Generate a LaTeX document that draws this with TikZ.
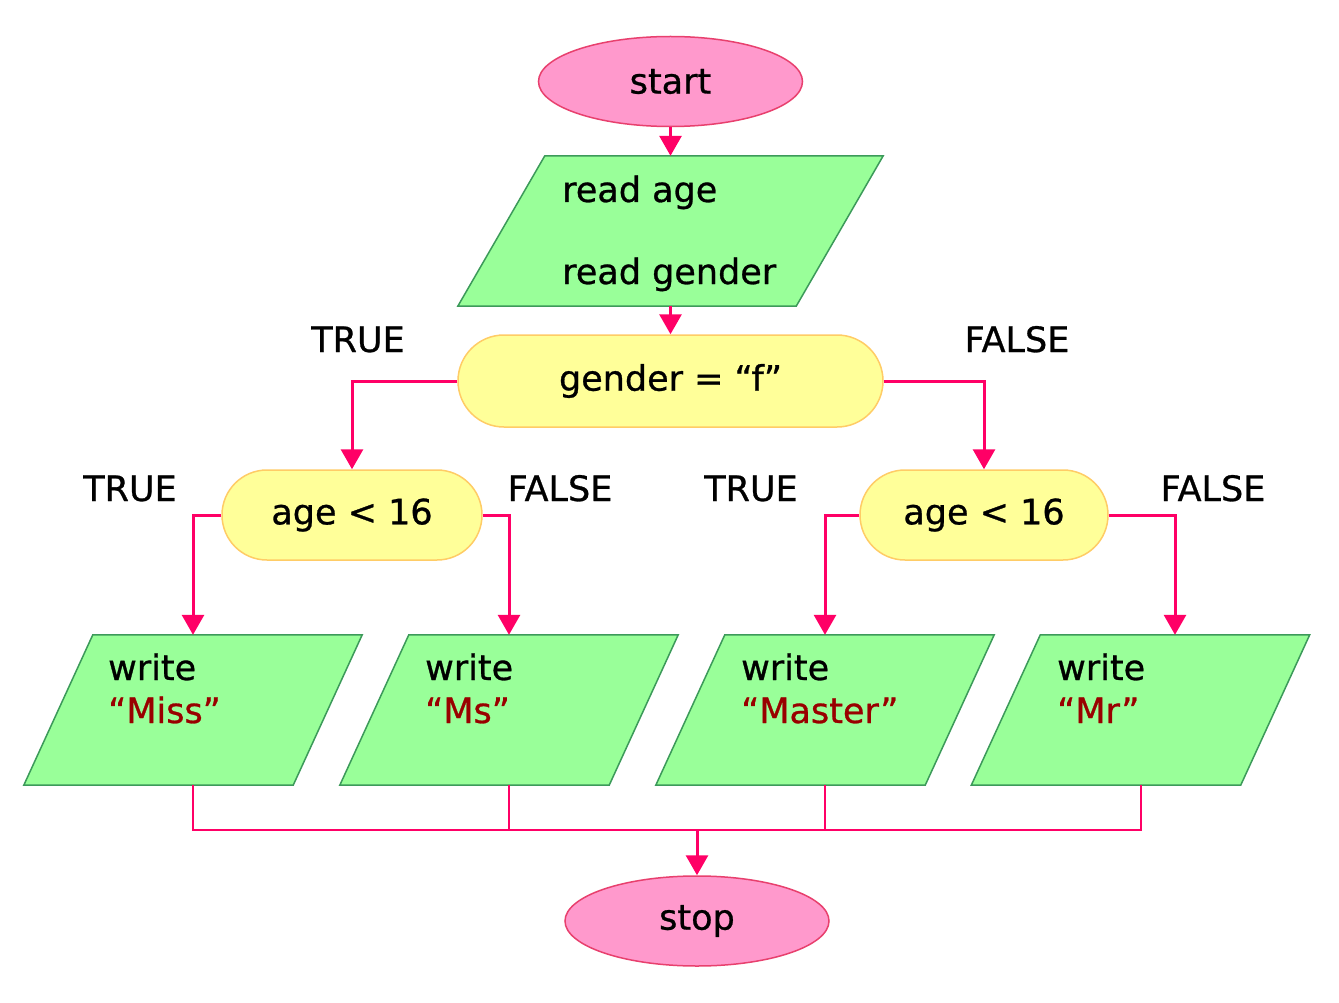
\documentclass[tikz,border=0pt]{standalone}
\usepackage{fontspec}
\setmainfont[FakeBold=0.8]{DejaVu Sans}
\usetikzlibrary{shapes.geometric,shapes.misc,arrows.meta,calc}
\definecolor{lnk}{HTML}{FF0066}
\definecolor{pinkf}{HTML}{FF99CC}
\definecolor{pinkd}{HTML}{E8406E}
\definecolor{greenf}{HTML}{99FF99}
\definecolor{greend}{HTML}{3C9A5A}
\definecolor{yelf}{HTML}{FFFF99}
\definecolor{yeld}{HTML}{FFCC66}
\definecolor{quot}{HTML}{990000}
\newcommand\myparal[2]{% node name, half slant
  \draw[pshape] ($(#1.south west)+(-#2,0)$) -- ($(#1.south east)+(-#2,0)$)
    -- ($(#1.north east)+(#2,0)$) -- ($(#1.north west)+(#2,0)$) -- cycle;}
\begin{document}
\begin{tikzpicture}[x=1pt,y=-1pt,
  every node/.style={font=\fontsize{35pt}{42pt}\selectfont, inner sep=0pt},
  term/.style={ellipse, draw=pinkd, fill=pinkf, line width=1.5pt, minimum width=264pt, minimum height=90pt},
  pbox/.style={rectangle, draw=none, minimum height=150pt},
  pshape/.style={draw=greend, fill=greenf, line width=1.5pt, line join=miter},
  cond/.style={rounded rectangle, draw=yeld, fill=yelf, line width=1.5pt, minimum height=90pt},
  flow/.style={draw=lnk, line width=3pt, -{Triangle[width=22pt,length=20pt]}},
  joinln/.style={draw=lnk, line width=2pt},
  lbl/.style={anchor=base},
  txt/.style={anchor=base west},
]
\fill[white] (0,0) rectangle (1339,1003);
\useasboundingbox (0,0) rectangle (1339,1003);

\node[term] (start) at (670.5,81.5) {start};
\node[pbox, minimum width=338pt] (read) at (670.5,231) {};
\myparal{read}{43.5}
\node[txt] (t1) at (562,202) {read age};
\node[txt] (t2) at (562,284) {read gender};
\node[cond, minimum width=425pt, minimum height=92pt] (g) at (670.5,381) {gender = “f”};
\node[cond, minimum width=260pt] (a1) at (352,515) {age < 16};
\node[cond, minimum width=248pt] (a2) at (984,515) {age < 16};

\node[pbox, minimum width=269pt] (miss) at (193,710) {};
\node[pbox, minimum width=269pt] (ms) at (509,710) {};
\node[pbox, minimum width=269pt] (master) at (825,710) {};
\node[pbox, minimum width=269pt] (mr) at (1140.5,710) {};
\myparal{miss}{34.5}
\myparal{ms}{34.5}
\myparal{master}{34.5}
\myparal{mr}{34.5}

\node[txt] (w1) at (108,680) {write};
\node[txt, text=quot] (q1) at (108,723) {“Miss”};
\node[txt] (w2) at (425,680) {write};
\node[txt, text=quot] (q2) at (425,723) {“Ms”};
\node[txt] (w3) at (741,680) {write};
\node[txt, text=quot] (q3) at (741,723) {“Master”};
\node[txt] (w4) at (1057,680) {write};
\node[txt, text=quot] (q4) at (1057,723) {“Mr”};

\node[term] (stop) at (697,921) {stop};

\node[lbl] (l1) at (358,352) {TRUE};
\node[lbl] (l2) at (1017,352) {FALSE};
\node[lbl] (l3) at (130,501) {TRUE};
\node[lbl] (l4) at (560,501) {FALSE};
\node[lbl] (l5) at (751,501) {TRUE};
\node[lbl] (l6) at (1213,501) {FALSE};

\draw[flow] (start.south) -- (read.north);
\draw[flow] (read.south) -- (g.north);
\draw[flow] (g.west) -| (a1.north);
\draw[flow] (g.east) -| (a2.north);
\draw[flow] (a1.west) -| (miss.north);
\draw[flow] (a1.east) -| (ms.north);
\draw[flow] (a2.west) -| (master.north);
\coordinate (mrin) at ($(mr.north)+(34.5,0)$);
\draw[flow] (a2.east) -| (mrin);

\coordinate (bus) at (697,830);
\draw[joinln] (miss.south) |- (bus);
\draw[joinln] (ms.south) |- (bus);
\draw[joinln] (master.south) |- (bus);
\draw[joinln] (mr.south) |- (bus);
\draw[flow] (bus) -- (stop.north);
\end{tikzpicture}
\end{document}
